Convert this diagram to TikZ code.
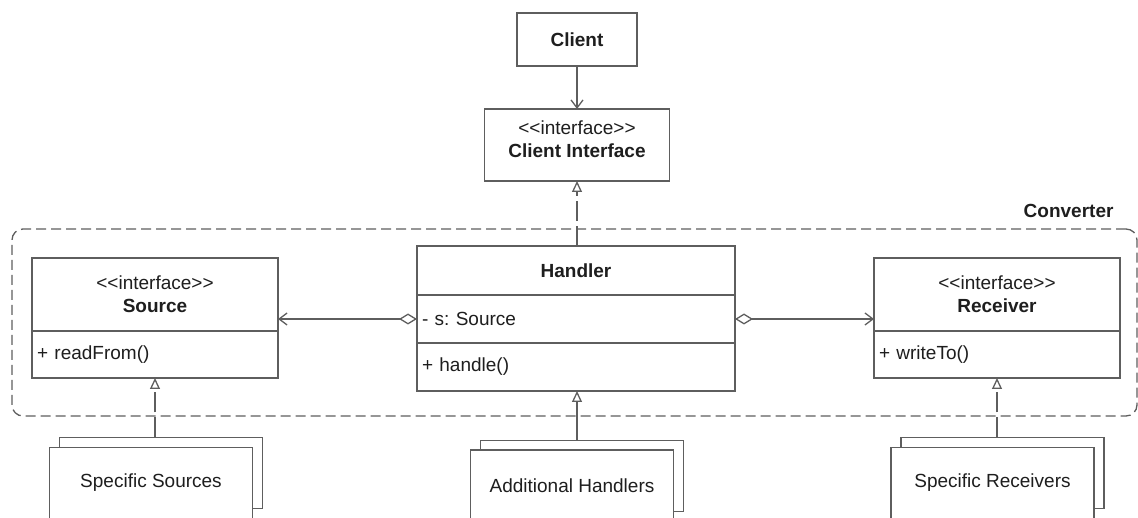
\documentclass[tikz,border=0pt]{standalone}
\usepackage{fontspec}
\setmainfont{Liberation Sans}
\usepackage{tikz}
\usetikzlibrary{positioning,arrows.meta}
\definecolor{umlline}{HTML}{5E5E5E}
\definecolor{umltext}{HTML}{1E1E1E}
\tikzset{
  part/.style={draw=umlline,line width=1.3pt,fill=white,outer sep=0pt,inner sep=0pt,align=center,text=umltext},
  members/.style={part,align=left,inner xsep=5pt},
  stackbox/.style={draw=umlline,line width=1.3pt,fill=white,outer sep=0pt,minimum width=203pt,minimum height=71pt,text=umltext},
  dep/.style={draw=umlline,line width=1.3pt,-{Straight Barb[length=8pt,width=12pt]}},
  realize/.style={draw=umlline,line width=1.3pt,dash pattern=on 20pt off 5pt,-{Triangle[open,length=11pt,width=10pt]}},
  inherit/.style={draw=umlline,line width=1.3pt,-{Triangle[open,length=11pt,width=10pt]}},
  aggr/.style={draw=umlline,line width=1.3pt,{Diamond[open,length=18pt,width=11pt]}-{Straight Barb[length=8pt,width=12pt]}},
  group/.style={draw=umlline,line width=1.3pt,dash pattern=on 10pt off 5pt,rounded corners=11pt,outer sep=0pt}
}
\newcommand{\stereo}{<{}<interface>{}>}

\begin{document}
\frenchspacing
\begin{tikzpicture}[x=1pt,y=-1pt,font=\fontsize{19}{23}\selectfont]
\useasboundingbox (0,0) rectangle (1138,518);
\clip (0,0) rectangle (1138,518);

% converter package
\node[group, minimum width=1125pt, minimum height=187pt] (conv) at (574.5,322.5) {};
\node[anchor=east, font=\fontsize{19}{23}\selectfont\bfseries, text=umltext] (convLbl) at (1117,211) {Converter};

% client side
\node[part, minimum width=120pt, minimum height=53pt, font=\fontsize{19}{23}\selectfont\bfseries] (client) at (577,39.5) {Client};
\node[part, minimum width=185pt, minimum height=72pt,
  label={[align=center,yshift=6pt,text=umltext]center:\stereo\\\textbf{Client Interface}}] (ci) at (577,145) {};

% handler class
\node[part, minimum width=318pt, minimum height=49pt, font=\fontsize{19}{23}\selectfont\bfseries] (hTitle) at (576,270.5) {Handler};
\node[members, text width=308pt, minimum height=48pt, below=0pt of hTitle] (hAttr) {- s: Source};
\node[members, text width=308pt, minimum height=48pt, below=0pt of hAttr] (hOps) {+ handle()};

% source interface
\node[part, minimum width=246pt, minimum height=73pt] (src) at (155,294.5) {\stereo\\\textbf{Source}};
\node[members, text width=236pt, minimum height=47pt, below=0pt of src] (srcOps) {+ readFrom()};

% receiver interface
\node[part, minimum width=246pt, minimum height=73pt] (rcv) at (997,294.5) {\stereo\\\textbf{Receiver}};
\node[members, text width=236pt, minimum height=47pt, below=0pt of rcv] (rcvOps) {+ writeTo()};

% implementations, drawn as stacks
\node[stackbox] (ssBack) at (161,473) {};
\node[stackbox] (ssFront) at (151,483) {Specific Sources};
\node[stackbox] (ahBack) at (582,476) {};
\node[stackbox] (ahFront) at (572,485.5) {Additional Handlers};
\node[stackbox] (srBack) at (1002.5,473) {};
\node[stackbox] (srFront) at (992.5,483) {Specific Receivers};

% relations
\draw[dep] (client) -- (ci);
\draw[realize] (hTitle.north -| ci.south) -- (ci.south);
\draw[aggr] (hAttr.west) -- (hAttr.west -| src.east);
\draw[aggr] (hAttr.east) -- (hAttr.east -| rcv.west);
\draw[realize] (ssBack.north -| srcOps.south) -- (srcOps.south);
\draw[inherit] (ahBack.north -| ci.south) -- (hOps.south -| ci.south);
\draw[realize] (srBack.north -| rcvOps.south) -- (rcvOps.south);
\end{tikzpicture}
\end{document}
